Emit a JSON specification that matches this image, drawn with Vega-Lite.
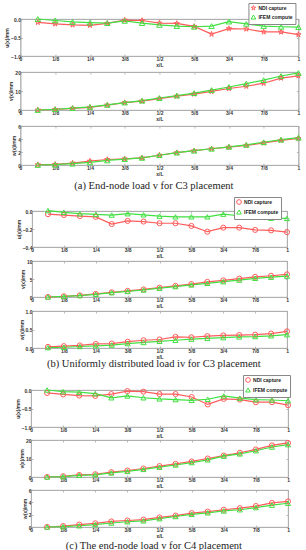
{
"$schema":"https://vega.github.io/schema/vega-lite/v6.json",
"padding":{"left":4,"top":2,"right":0,"bottom":0},
"background":"white",
"datasets":{
"au":[{"x":0.0625,"NDI capture":-0.09,"IFEM compute":0.0},{"x":0.125,"NDI capture":-0.13,"IFEM compute":-0.04},{"x":0.1875,"NDI capture":-0.16,"IFEM compute":-0.08},{"x":0.25,"NDI capture":-0.17,"IFEM compute":-0.1},{"x":0.3125,"NDI capture":-0.12,"IFEM compute":-0.11},{"x":0.375,"NDI capture":-0.03,"IFEM compute":-0.05},{"x":0.4375,"NDI capture":-0.04,"IFEM compute":-0.11},{"x":0.5,"NDI capture":-0.11,"IFEM compute":-0.16},{"x":0.5625,"NDI capture":-0.12,"IFEM compute":-0.19},{"x":0.625,"NDI capture":-0.2,"IFEM compute":-0.21},{"x":0.6875,"NDI capture":-0.41,"IFEM compute":-0.19},{"x":0.75,"NDI capture":-0.26,"IFEM compute":-0.07},{"x":0.8125,"NDI capture":-0.27,"IFEM compute":-0.13},{"x":0.875,"NDI capture":-0.35,"IFEM compute":-0.19},{"x":0.9375,"NDI capture":-0.35,"IFEM compute":-0.21},{"x":1,"NDI capture":-0.42,"IFEM compute":-0.22}],
"av":[{"x":0.0625,"NDI capture":0.0,"IFEM compute":0.0},{"x":0.125,"NDI capture":0.3,"IFEM compute":0.4},{"x":0.1875,"NDI capture":0.9,"IFEM compute":1.0},{"x":0.25,"NDI capture":1.4,"IFEM compute":1.6},{"x":0.3125,"NDI capture":2.6,"IFEM compute":2.7},{"x":0.375,"NDI capture":3.9,"IFEM compute":3.9},{"x":0.4375,"NDI capture":4.7,"IFEM compute":4.9},{"x":0.5,"NDI capture":6.0,"IFEM compute":6.3},{"x":0.5625,"NDI capture":7.3,"IFEM compute":7.6},{"x":0.625,"NDI capture":8.4,"IFEM compute":8.9},{"x":0.6875,"NDI capture":9.8,"IFEM compute":10.5},{"x":0.75,"NDI capture":11.3,"IFEM compute":12.1},{"x":0.8125,"NDI capture":12.5,"IFEM compute":13.9},{"x":0.875,"NDI capture":14.1,"IFEM compute":15.7},{"x":0.9375,"NDI capture":16.8,"IFEM compute":17.9},{"x":1,"NDI capture":18.0,"IFEM compute":19.5}],
"aw":[{"x":0.0625,"NDI capture":0.05,"IFEM compute":0.0},{"x":0.125,"NDI capture":0.1,"IFEM compute":0.05},{"x":0.1875,"NDI capture":0.3,"IFEM compute":0.2},{"x":0.25,"NDI capture":0.6,"IFEM compute":0.4},{"x":0.3125,"NDI capture":0.85,"IFEM compute":0.7},{"x":0.375,"NDI capture":0.95,"IFEM compute":0.9},{"x":0.4375,"NDI capture":1.1,"IFEM compute":1.1},{"x":0.5,"NDI capture":1.5,"IFEM compute":1.5},{"x":0.5625,"NDI capture":1.9,"IFEM compute":1.9},{"x":0.625,"NDI capture":2.2,"IFEM compute":2.2},{"x":0.6875,"NDI capture":2.5,"IFEM compute":2.5},{"x":0.75,"NDI capture":2.75,"IFEM compute":2.8},{"x":0.8125,"NDI capture":3.0,"IFEM compute":3.1},{"x":0.875,"NDI capture":3.4,"IFEM compute":3.5},{"x":0.9375,"NDI capture":3.8,"IFEM compute":3.9},{"x":1,"NDI capture":4.1,"IFEM compute":4.2}],
"bu":[{"x":0.0625,"NDI capture":-0.035,"IFEM compute":0.005},{"x":0.125,"NDI capture":-0.045,"IFEM compute":-0.015},{"x":0.1875,"NDI capture":-0.057,"IFEM compute":-0.03},{"x":0.25,"NDI capture":-0.065,"IFEM compute":-0.038},{"x":0.3125,"NDI capture":-0.145,"IFEM compute":-0.045},{"x":0.375,"NDI capture":-0.11,"IFEM compute":-0.03},{"x":0.4375,"NDI capture":-0.117,"IFEM compute":-0.042},{"x":0.5,"NDI capture":-0.136,"IFEM compute":-0.057},{"x":0.5625,"NDI capture":-0.136,"IFEM compute":-0.065},{"x":0.625,"NDI capture":-0.166,"IFEM compute":-0.065},{"x":0.6875,"NDI capture":-0.23,"IFEM compute":-0.065},{"x":0.75,"NDI capture":-0.185,"IFEM compute":-0.035},{"x":0.8125,"NDI capture":-0.185,"IFEM compute":-0.053},{"x":0.875,"NDI capture":-0.21,"IFEM compute":-0.068},{"x":0.9375,"NDI capture":-0.215,"IFEM compute":-0.08},{"x":1,"NDI capture":-0.235,"IFEM compute":-0.083}],
"bv":[{"x":0.0625,"NDI capture":0.0,"IFEM compute":0.0},{"x":0.125,"NDI capture":0.2,"IFEM compute":0.15},{"x":0.1875,"NDI capture":0.45,"IFEM compute":0.4},{"x":0.25,"NDI capture":0.85,"IFEM compute":0.75},{"x":0.3125,"NDI capture":1.3,"IFEM compute":1.2},{"x":0.375,"NDI capture":1.7,"IFEM compute":1.55},{"x":0.4375,"NDI capture":2.1,"IFEM compute":1.95},{"x":0.5,"NDI capture":2.6,"IFEM compute":2.45},{"x":0.5625,"NDI capture":3.1,"IFEM compute":2.9},{"x":0.625,"NDI capture":3.6,"IFEM compute":3.35},{"x":0.6875,"NDI capture":4.2,"IFEM compute":3.8},{"x":0.75,"NDI capture":4.6,"IFEM compute":4.25},{"x":0.8125,"NDI capture":5.1,"IFEM compute":4.7},{"x":0.875,"NDI capture":5.6,"IFEM compute":5.2},{"x":0.9375,"NDI capture":5.9,"IFEM compute":5.5},{"x":1,"NDI capture":6.3,"IFEM compute":5.8}],
"bw":[{"x":0.0625,"NDI capture":0.03,"IFEM compute":0.01},{"x":0.125,"NDI capture":0.05,"IFEM compute":0.02},{"x":0.1875,"NDI capture":0.07,"IFEM compute":0.04},{"x":0.25,"NDI capture":0.11,"IFEM compute":0.06},{"x":0.3125,"NDI capture":0.12,"IFEM compute":0.08},{"x":0.375,"NDI capture":0.17,"IFEM compute":0.12},{"x":0.4375,"NDI capture":0.21,"IFEM compute":0.15},{"x":0.5,"NDI capture":0.23,"IFEM compute":0.18},{"x":0.5625,"NDI capture":0.3,"IFEM compute":0.21},{"x":0.625,"NDI capture":0.29,"IFEM compute":0.24},{"x":0.6875,"NDI capture":0.32,"IFEM compute":0.26},{"x":0.75,"NDI capture":0.34,"IFEM compute":0.28},{"x":0.8125,"NDI capture":0.35,"IFEM compute":0.3},{"x":0.875,"NDI capture":0.36,"IFEM compute":0.31},{"x":0.9375,"NDI capture":0.39,"IFEM compute":0.33},{"x":1,"NDI capture":0.45,"IFEM compute":0.36}],
"cu":[{"x":0.0625,"NDI capture":-0.08,"IFEM compute":0.0},{"x":0.125,"NDI capture":-0.12,"IFEM compute":-0.045},{"x":0.1875,"NDI capture":-0.15,"IFEM compute":-0.06},{"x":0.25,"NDI capture":-0.16,"IFEM compute":-0.1},{"x":0.3125,"NDI capture":-0.11,"IFEM compute":-0.21},{"x":0.375,"NDI capture":-0.03,"IFEM compute":-0.16},{"x":0.4375,"NDI capture":-0.045,"IFEM compute":-0.21},{"x":0.5,"NDI capture":-0.11,"IFEM compute":-0.24},{"x":0.5625,"NDI capture":-0.11,"IFEM compute":-0.26},{"x":0.625,"NDI capture":-0.19,"IFEM compute":-0.28},{"x":0.6875,"NDI capture":-0.39,"IFEM compute":-0.25},{"x":0.75,"NDI capture":-0.24,"IFEM compute":-0.16},{"x":0.8125,"NDI capture":-0.26,"IFEM compute":-0.22},{"x":0.875,"NDI capture":-0.33,"IFEM compute":-0.26},{"x":0.9375,"NDI capture":-0.33,"IFEM compute":-0.27},{"x":1,"NDI capture":-0.41,"IFEM compute":-0.29}],
"cv":[{"x":0.0625,"NDI capture":0.0,"IFEM compute":0.0},{"x":0.125,"NDI capture":0.4,"IFEM compute":0.2},{"x":0.1875,"NDI capture":1.1,"IFEM compute":0.9},{"x":0.25,"NDI capture":1.5,"IFEM compute":1.2},{"x":0.3125,"NDI capture":2.6,"IFEM compute":2.2},{"x":0.375,"NDI capture":3.5,"IFEM compute":3.0},{"x":0.4375,"NDI capture":4.6,"IFEM compute":4.1},{"x":0.5,"NDI capture":5.9,"IFEM compute":5.3},{"x":0.5625,"NDI capture":7.1,"IFEM compute":6.5},{"x":0.625,"NDI capture":8.4,"IFEM compute":7.8},{"x":0.6875,"NDI capture":10.0,"IFEM compute":9.3},{"x":0.75,"NDI capture":11.6,"IFEM compute":11.3},{"x":0.8125,"NDI capture":13.1,"IFEM compute":12.5},{"x":0.875,"NDI capture":14.9,"IFEM compute":14.2},{"x":0.9375,"NDI capture":17.1,"IFEM compute":16.2},{"x":1,"NDI capture":18.4,"IFEM compute":17.5}],
"cw":[{"x":0.0625,"NDI capture":0.0,"IFEM compute":0.0},{"x":0.125,"NDI capture":0.15,"IFEM compute":0.05},{"x":0.1875,"NDI capture":0.4,"IFEM compute":0.2},{"x":0.25,"NDI capture":0.6,"IFEM compute":0.4},{"x":0.3125,"NDI capture":0.9,"IFEM compute":0.65},{"x":0.375,"NDI capture":1.05,"IFEM compute":0.85},{"x":0.4375,"NDI capture":1.2,"IFEM compute":1.0},{"x":0.5,"NDI capture":1.55,"IFEM compute":1.35},{"x":0.5625,"NDI capture":1.85,"IFEM compute":1.7},{"x":0.625,"NDI capture":2.25,"IFEM compute":2.05},{"x":0.6875,"NDI capture":2.5,"IFEM compute":2.3},{"x":0.75,"NDI capture":2.8,"IFEM compute":2.6},{"x":0.8125,"NDI capture":3.05,"IFEM compute":2.8},{"x":0.875,"NDI capture":3.4,"IFEM compute":3.15},{"x":0.9375,"NDI capture":3.9,"IFEM compute":3.55},{"x":1,"NDI capture":4.15,"IFEM compute":3.85}]
},
"vconcat":[
{"spacing":16,"bounds":"flush",
 "title":{"text":"(a) End-node load v for C3 placement","orient":"bottom","offset":5},
 "resolve":{"scale":{"color":"independent","shape":"independent"},"legend":{"color":"independent","shape":"independent"}},
 "vconcat":[
  {"data":{"name":"au"},"transform":[{"fold":["NDI capture","IFEM compute"],"as":["s","y"]}],"width":278,"height":37,
   "layer":[
    {"mark":{"type":"line","strokeWidth":1.2},"encoding":{
      "x":{"field":"x","type":"quantitative","scale":{"domain":[0,1],"nice":false},"axis":{"orient":"bottom","values":[0,0.125,0.25,0.375,0.5,0.625,0.75,0.875,1],"labelExpr":"['0','1/8','1/4','3/8','1/2','5/8','3/4','7/8','1'][round(datum.value*8)]","title":"x/L"}},
      "y":{"field":"y","type":"quantitative","scale":{"domain":[-1,0],"nice":false},"axis":{"orient":"left","values":[-1,-0.5,0],"title":"u(x)/mm"}},
      "color":{"field":"s","type":"nominal","scale":{"domain":["NDI capture","IFEM compute"],"range":["#ff5c5c","#40e040"]},"legend":{"legendX":228,"legendY":-16}}}},
    {"mark":{"type":"point","filled":false,"size":30,"strokeWidth":1,"opacity":1},"encoding":{
      "x":{"field":"x","type":"quantitative","axis":{"orient":"top","values":[0,0.125,0.25,0.375,0.5,0.625,0.75,0.875,1],"labels":false,"title":null}},
      "y":{"field":"y","type":"quantitative","axis":{"orient":"right","values":[-1,-0.5,0],"labels":false,"title":null}},
      "color":{"field":"s","type":"nominal","legend":{"legendX":228,"legendY":-16}},
      "shape":{"field":"s","type":"nominal","scale":{"domain":["NDI capture","IFEM compute"],"range":["M0,-1L0.2245,-0.309L0.951,-0.309L0.363,0.118L0.588,0.809L0,0.382L-0.588,0.809L-0.363,0.118L-0.951,-0.309L-0.2245,-0.309Z","triangle-up"]},"legend":{"legendX":228,"legendY":-16}}}}
   ],
   "resolve":{"axis":{"x":"independent","y":"independent"}}},
  {"data":{"name":"av"},"transform":[{"fold":["NDI capture","IFEM compute"],"as":["s","y"]}],"width":278,"height":38,
   "layer":[
    {"mark":{"type":"line","strokeWidth":1.2},"encoding":{
      "x":{"field":"x","type":"quantitative","scale":{"domain":[0,1],"nice":false},"axis":{"orient":"bottom","values":[0,0.125,0.25,0.375,0.5,0.625,0.75,0.875,1],"labelExpr":"['0','1/8','1/4','3/8','1/2','5/8','3/4','7/8','1'][round(datum.value*8)]","title":"x/L"}},
      "y":{"field":"y","type":"quantitative","scale":{"domain":[0,20],"nice":false},"axis":{"orient":"left","values":[0,10,20],"title":"v(x)/mm"}},
      "color":{"field":"s","type":"nominal","scale":{"domain":["NDI capture","IFEM compute"],"range":["#ff5c5c","#40e040"]},"legend":null}}},
    {"mark":{"type":"point","filled":false,"size":30,"strokeWidth":1,"opacity":1},"encoding":{
      "x":{"field":"x","type":"quantitative","axis":{"orient":"top","values":[0,0.125,0.25,0.375,0.5,0.625,0.75,0.875,1],"labels":false,"title":null}},
      "y":{"field":"y","type":"quantitative","axis":{"orient":"right","values":[0,10,20],"labels":false,"title":null}},
      "color":{"field":"s","type":"nominal","legend":null},
      "shape":{"field":"s","type":"nominal","scale":{"domain":["NDI capture","IFEM compute"],"range":["M0,-1L0.2245,-0.309L0.951,-0.309L0.363,0.118L0.588,0.809L0,0.382L-0.588,0.809L-0.363,0.118L-0.951,-0.309L-0.2245,-0.309Z","triangle-up"]},"legend":null}}}
   ],
   "resolve":{"axis":{"x":"independent","y":"independent"}}},
  {"data":{"name":"aw"},"transform":[{"fold":["NDI capture","IFEM compute"],"as":["s","y"]}],"width":278,"height":39,
   "layer":[
    {"mark":{"type":"line","strokeWidth":1.2},"encoding":{
      "x":{"field":"x","type":"quantitative","scale":{"domain":[0,1],"nice":false},"axis":{"orient":"bottom","values":[0,0.125,0.25,0.375,0.5,0.625,0.75,0.875,1],"labelExpr":"['0','1/8','1/4','3/8','1/2','5/8','3/4','7/8','1'][round(datum.value*8)]","title":"x/L"}},
      "y":{"field":"y","type":"quantitative","scale":{"domain":[0,6],"nice":false},"axis":{"orient":"left","values":[0,2,4,6],"title":"w(x)/mm"}},
      "color":{"field":"s","type":"nominal","scale":{"domain":["NDI capture","IFEM compute"],"range":["#ff5c5c","#40e040"]},"legend":null}}},
    {"mark":{"type":"point","filled":false,"size":30,"strokeWidth":1,"opacity":1},"encoding":{
      "x":{"field":"x","type":"quantitative","axis":{"orient":"top","values":[0,0.125,0.25,0.375,0.5,0.625,0.75,0.875,1],"labels":false,"title":null}},
      "y":{"field":"y","type":"quantitative","axis":{"orient":"right","values":[0,2,4,6],"labels":false,"title":null}},
      "color":{"field":"s","type":"nominal","legend":null},
      "shape":{"field":"s","type":"nominal","scale":{"domain":["NDI capture","IFEM compute"],"range":["M0,-1L0.2245,-0.309L0.951,-0.309L0.363,0.118L0.588,0.809L0,0.382L-0.588,0.809L-0.363,0.118L-0.951,-0.309L-0.2245,-0.309Z","triangle-up"]},"legend":null}}}
   ],
   "resolve":{"axis":{"x":"independent","y":"independent"}}}
 ]},
{"spacing":14,"bounds":"flush",
 "title":{"text":"(b) Uniformly distributed load iv for C3 placement","orient":"bottom","offset":0},
 "resolve":{"scale":{"color":"independent","shape":"independent"},"legend":{"color":"independent","shape":"independent"}},
 "vconcat":[
  {"data":{"name":"bu"},"transform":[{"fold":["NDI capture","IFEM compute"],"as":["s","y"]}],"width":255,"height":36,
   "layer":[
    {"mark":{"type":"line","strokeWidth":1.2},"encoding":{
      "x":{"field":"x","type":"quantitative","scale":{"domain":[0,1],"nice":false},"axis":{"orient":"bottom","values":[0,0.125,0.25,0.375,0.5,0.625,0.75,0.875,1],"labelExpr":"['0','1/8','1/4','3/8','1/2','5/8','3/4','7/8','1'][round(datum.value*8)]","title":"x/L"}},
      "y":{"field":"y","type":"quantitative","scale":{"domain":[-0.4,0],"nice":false},"axis":{"orient":"left","values":[-0.4,-0.2,0],"title":"u(x)/mm"}},
      "color":{"field":"s","type":"nominal","scale":{"domain":["NDI capture","IFEM compute"],"range":["#ff5c5c","#40e040"]},"legend":{"legendX":202,"legendY":-14}}}},
    {"mark":{"type":"point","filled":false,"size":26,"strokeWidth":1,"opacity":1},"encoding":{
      "x":{"field":"x","type":"quantitative","axis":{"orient":"top","values":[0,0.125,0.25,0.375,0.5,0.625,0.75,0.875,1],"labels":false,"title":null}},
      "y":{"field":"y","type":"quantitative","axis":{"orient":"right","values":[-0.4,-0.2,0],"labels":false,"title":null}},
      "color":{"field":"s","type":"nominal","legend":{"legendX":202,"legendY":-14}},
      "shape":{"field":"s","type":"nominal","scale":{"domain":["NDI capture","IFEM compute"],"range":["circle","triangle-up"]},"legend":{"legendX":202,"legendY":-14}}}}
   ],
   "resolve":{"axis":{"x":"independent","y":"independent"}}},
  {"data":{"name":"bv"},"transform":[{"fold":["NDI capture","IFEM compute"],"as":["s","y"]}],"width":255,"height":36,
   "layer":[
    {"mark":{"type":"line","strokeWidth":1.2},"encoding":{
      "x":{"field":"x","type":"quantitative","scale":{"domain":[0,1],"nice":false},"axis":{"orient":"bottom","values":[0,0.125,0.25,0.375,0.5,0.625,0.75,0.875,1],"labelExpr":"['0','1/8','1/4','3/8','1/2','5/8','3/4','7/8','1'][round(datum.value*8)]","title":"x/L"}},
      "y":{"field":"y","type":"quantitative","scale":{"domain":[0,10],"nice":false},"axis":{"orient":"left","values":[0,5,10],"title":"v(x)/mm"}},
      "color":{"field":"s","type":"nominal","scale":{"domain":["NDI capture","IFEM compute"],"range":["#ff5c5c","#40e040"]},"legend":null}}},
    {"mark":{"type":"point","filled":false,"size":26,"strokeWidth":1,"opacity":1},"encoding":{
      "x":{"field":"x","type":"quantitative","axis":{"orient":"top","values":[0,0.125,0.25,0.375,0.5,0.625,0.75,0.875,1],"labels":false,"title":null}},
      "y":{"field":"y","type":"quantitative","axis":{"orient":"right","values":[0,5,10],"labels":false,"title":null}},
      "color":{"field":"s","type":"nominal","legend":null},
      "shape":{"field":"s","type":"nominal","scale":{"domain":["NDI capture","IFEM compute"],"range":["circle","triangle-up"]},"legend":null}}}
   ],
   "resolve":{"axis":{"x":"independent","y":"independent"}}},
  {"data":{"name":"bw"},"transform":[{"fold":["NDI capture","IFEM compute"],"as":["s","y"]}],"width":255,"height":37,
   "layer":[
    {"mark":{"type":"line","strokeWidth":1.2},"encoding":{
      "x":{"field":"x","type":"quantitative","scale":{"domain":[0,1],"nice":false},"axis":{"orient":"bottom","values":[0,0.125,0.25,0.375,0.5,0.625,0.75,0.875,1],"labelExpr":"['0','1/8','1/4','3/8','1/2','5/8','3/4','7/8','1'][round(datum.value*8)]","title":"x/L"}},
      "y":{"field":"y","type":"quantitative","scale":{"domain":[0,1],"nice":false},"axis":{"orient":"left","values":[0,0.5,1],"title":"w(x)/mm"}},
      "color":{"field":"s","type":"nominal","scale":{"domain":["NDI capture","IFEM compute"],"range":["#ff5c5c","#40e040"]},"legend":null}}},
    {"mark":{"type":"point","filled":false,"size":26,"strokeWidth":1,"opacity":1},"encoding":{
      "x":{"field":"x","type":"quantitative","axis":{"orient":"top","values":[0,0.125,0.25,0.375,0.5,0.625,0.75,0.875,1],"labels":false,"title":null}},
      "y":{"field":"y","type":"quantitative","axis":{"orient":"right","values":[0,0.5,1],"labels":false,"title":null}},
      "color":{"field":"s","type":"nominal","legend":null},
      "shape":{"field":"s","type":"nominal","scale":{"domain":["NDI capture","IFEM compute"],"range":["circle","triangle-up"]},"legend":null}}}
   ],
   "resolve":{"axis":{"x":"independent","y":"independent"}}}
 ]},
{"spacing":13,"bounds":"flush",
 "title":{"text":"(c) The end-node load v for C4 placement","orient":"bottom","offset":3},
 "resolve":{"scale":{"color":"independent","shape":"independent"},"legend":{"color":"independent","shape":"independent"}},
 "vconcat":[
  {"data":{"name":"cu"},"transform":[{"fold":["NDI capture","IFEM compute"],"as":["s","y"]}],"width":257,"height":37,
   "layer":[
    {"mark":{"type":"line","strokeWidth":1.2},"encoding":{
      "x":{"field":"x","type":"quantitative","scale":{"domain":[0,1],"nice":false},"axis":{"orient":"bottom","values":[0,0.125,0.25,0.375,0.5,0.625,0.75,0.875,1],"labelExpr":"['0','1/8','1/4','3/8','1/2','5/8','3/4','7/8','1'][round(datum.value*8)]","title":"x/L"}},
      "y":{"field":"y","type":"quantitative","scale":{"domain":[-1,0],"nice":false},"axis":{"orient":"left","values":[-1,-0.5,0],"title":"u(x)/mm"}},
      "color":{"field":"s","type":"nominal","scale":{"domain":["NDI capture","IFEM compute"],"range":["#ff5c5c","#40e040"]},"legend":{"legendX":212,"legendY":-15}}}},
    {"mark":{"type":"point","filled":false,"size":26,"strokeWidth":1,"opacity":1},"encoding":{
      "x":{"field":"x","type":"quantitative","axis":{"orient":"top","values":[0,0.125,0.25,0.375,0.5,0.625,0.75,0.875,1],"labels":false,"title":null}},
      "y":{"field":"y","type":"quantitative","axis":{"orient":"right","values":[-1,-0.5,0],"labels":false,"title":null}},
      "color":{"field":"s","type":"nominal","legend":{"legendX":212,"legendY":-15}},
      "shape":{"field":"s","type":"nominal","scale":{"domain":["NDI capture","IFEM compute"],"range":["circle","triangle-up"]},"legend":{"legendX":212,"legendY":-15}}}}
   ],
   "resolve":{"axis":{"x":"independent","y":"independent"}}},
  {"data":{"name":"cv"},"transform":[{"fold":["NDI capture","IFEM compute"],"as":["s","y"]}],"width":257,"height":37,
   "layer":[
    {"mark":{"type":"line","strokeWidth":1.2},"encoding":{
      "x":{"field":"x","type":"quantitative","scale":{"domain":[0,1],"nice":false},"axis":{"orient":"bottom","values":[0,0.125,0.25,0.375,0.5,0.625,0.75,0.875,1],"labelExpr":"['0','1/8','1/4','3/8','1/2','5/8','3/4','7/8','1'][round(datum.value*8)]","title":"x/L"}},
      "y":{"field":"y","type":"quantitative","scale":{"domain":[0,20],"nice":false},"axis":{"orient":"left","values":[0,10,20],"title":"v(x)/mm"}},
      "color":{"field":"s","type":"nominal","scale":{"domain":["NDI capture","IFEM compute"],"range":["#ff5c5c","#40e040"]},"legend":null}}},
    {"mark":{"type":"point","filled":false,"size":26,"strokeWidth":1,"opacity":1},"encoding":{
      "x":{"field":"x","type":"quantitative","axis":{"orient":"top","values":[0,0.125,0.25,0.375,0.5,0.625,0.75,0.875,1],"labels":false,"title":null}},
      "y":{"field":"y","type":"quantitative","axis":{"orient":"right","values":[0,10,20],"labels":false,"title":null}},
      "color":{"field":"s","type":"nominal","legend":null},
      "shape":{"field":"s","type":"nominal","scale":{"domain":["NDI capture","IFEM compute"],"range":["circle","triangle-up"]},"legend":null}}}
   ],
   "resolve":{"axis":{"x":"independent","y":"independent"}}},
  {"data":{"name":"cw"},"transform":[{"fold":["NDI capture","IFEM compute"],"as":["s","y"]}],"width":257,"height":37,
   "layer":[
    {"mark":{"type":"line","strokeWidth":1.2},"encoding":{
      "x":{"field":"x","type":"quantitative","scale":{"domain":[0,1],"nice":false},"axis":{"orient":"bottom","values":[0,0.125,0.25,0.375,0.5,0.625,0.75,0.875,1],"labelExpr":"['0','1/8','1/4','3/8','1/2','5/8','3/4','7/8','1'][round(datum.value*8)]","title":"x/L"}},
      "y":{"field":"y","type":"quantitative","scale":{"domain":[0,6],"nice":false},"axis":{"orient":"left","values":[0,2,4,6],"title":"w(x)/mm"}},
      "color":{"field":"s","type":"nominal","scale":{"domain":["NDI capture","IFEM compute"],"range":["#ff5c5c","#40e040"]},"legend":null}}},
    {"mark":{"type":"point","filled":false,"size":26,"strokeWidth":1,"opacity":1},"encoding":{
      "x":{"field":"x","type":"quantitative","axis":{"orient":"top","values":[0,0.125,0.25,0.375,0.5,0.625,0.75,0.875,1],"labels":false,"title":null}},
      "y":{"field":"y","type":"quantitative","axis":{"orient":"right","values":[0,2,4,6],"labels":false,"title":null}},
      "color":{"field":"s","type":"nominal","legend":null},
      "shape":{"field":"s","type":"nominal","scale":{"domain":["NDI capture","IFEM compute"],"range":["circle","triangle-up"]},"legend":null}}}
   ],
   "resolve":{"axis":{"x":"independent","y":"independent"}}}
 ]}
],
"center":true,
"spacing":4,
"resolve":{"scale":{"color":"independent","shape":"independent"},"legend":{"color":"independent","shape":"independent"}},
"config":{
 "view":{"stroke":"#a8a8a8","strokeWidth":0.8},
 "axis":{"grid":false,"labelFontSize":5,"titleFontSize":5,"labelFont":"Liberation Sans","titleFont":"Liberation Sans","labelFontWeight":"bold","titleFontWeight":"bold","labelColor":"#333333","titleColor":"#333333","domainColor":"#a8a8a8","domainWidth":0.8,"tickColor":"#a8a8a8","tickWidth":0.8,"tickSize":-2,"labelPadding":2,"titlePadding":1,"labelFlush":false,"labelOverlap":false},
 "legend":{"orient":"none","title":null,"labelFontSize":5,"labelFont":"Liberation Sans","labelFontWeight":"bold","labelColor":"#222222","symbolSize":22,"symbolStrokeWidth":1,"rowPadding":0,"padding":2,"strokeColor":"#888888","fillColor":"white","labelOffset":2,"symbolOffset":0,"cornerRadius":0},
 "title":{"font":"Liberation Serif","fontSize":10.5,"fontWeight":"normal","color":"#222222","anchor":"middle","offset":4}
}
}
